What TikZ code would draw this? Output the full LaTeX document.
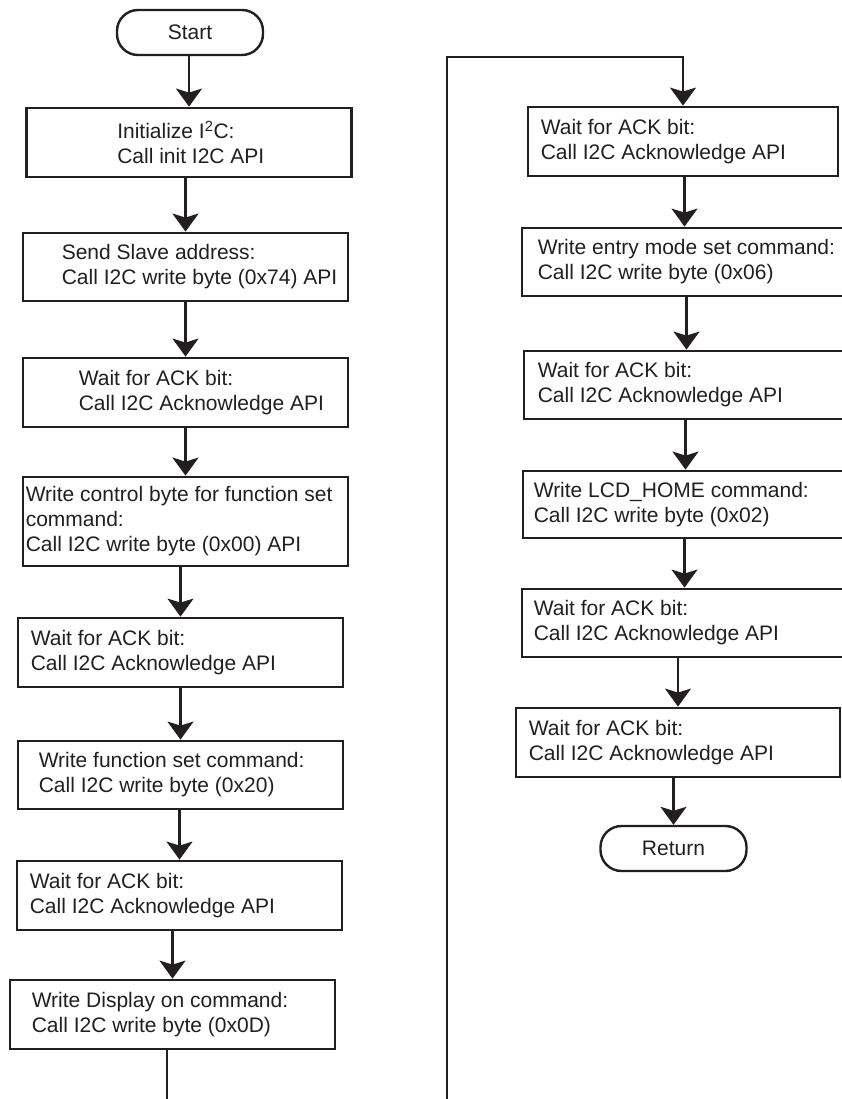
\documentclass[tikz,border=0pt]{standalone}
\usepackage{fontspec}
\setmainfont{Liberation Sans}
\usetikzlibrary{arrows.meta, positioning}
\definecolor{ink}{HTML}{231F20}

\begin{document}
\begin{tikzpicture}[
    x=1pt, y=-1pt,
    font=\fontsize{21}{25}\selectfont,
    every node/.style={text=ink},
    stepbox/.style={
        rectangle, draw=ink, line width=2.8pt,
        fill=white,
        minimum width=325pt, minimum height=68pt, inner sep=0pt
    },
    terminal/.style={
        rectangle, rounded corners=21pt, draw=ink, line width=2.4pt,
        fill=white,
        minimum width=146pt, minimum height=45pt, inner sep=0pt
    },
    txt/.style={align=left, inner sep=0pt},
    flow/.style={draw=ink, line width=2.4pt, -{Stealth[length=18pt, width=26pt, inset=4pt]}},
    line/.style={draw=ink, line width=2.4pt}
]
\useasboundingbox (0,0) rectangle (841,1099);

% -------------------------
% 1. Left column: setup of the display
% -------------------------
\node[terminal] (start) at (190, 32.5) {Start};

\node[stepbox, minimum height=69pt] (init) at (189, 142.5) {};
\node[txt, right=92pt of init.west] (initT) {Initialize I\textsuperscript{2}C:\\Call init I2C API};

\node[stepbox] (slave) at (185.5, 267) {};
\node[txt, right=40pt of slave.west] (slaveT) {Send Slave address:\\Call I2C write byte (0x74) API};

\node[stepbox, minimum height=69pt] (ack1) at (185.5, 392.5) {};
\node[txt, right=57pt of ack1.west] (ack1T) {Wait for ACK bit:\\Call I2C Acknowledge API};

\node[stepbox, minimum height=89pt] (ctrl) at (185.5, 521.5) {};
\node[txt, right=4pt of ctrl.west] (ctrlT) {Write control byte for function set\\command:\\Call I2C write byte (0x00) API};

\node[stepbox, minimum height=69pt] (ack2) at (180.5, 652.5) {};
\node[txt, right=14pt of ack2.west] (ack2T) {Wait for ACK bit:\\Call I2C Acknowledge API};

\node[stepbox] (fset) at (180.5, 775) {};
\node[txt, right=22pt of fset.west] (fsetT) {Write function set command:\\Call I2C write byte (0x20)};

\node[stepbox, minimum height=69pt] (ack3) at (179.5, 895.5) {};
\node[txt, right=14pt of ack3.west] (ack3T) {Wait for ACK bit:\\Call I2C Acknowledge API};

\node[stepbox, minimum height=69pt] (disp) at (172.5, 1014.5) {};
\node[txt, right=23pt of disp.west] (dispT) {Write Display on command:\\Call I2C write byte (0x0D)};

\draw[flow] (start.south -| init.north) -- (init.north);
\draw[flow] (init.south -| slave.north) -- (slave.north);
\draw[flow] (slave.south -| ack1.north) -- (ack1.north);
\draw[flow] (ack1.south -| ctrl.north) -- (ctrl.north);
\draw[flow] (ctrl.south -| ack2.north) -- (ack2.north);
\draw[flow] (ack2.south -| fset.north) -- (fset.north);
\draw[flow] (fset.south -| ack3.north) -- (ack3.north);
\draw[flow] (ack3.south -| disp.north) -- (disp.north);

% -------------------------
% 2. Right column: entry mode, home, return
% -------------------------
\node[stepbox, minimum width=310pt, minimum height=69pt] (ack4) at (683, 141.5) {};
\node[txt, right=14pt of ack4.west] (ack4T) {Wait for ACK bit:\\Call I2C Acknowledge API};

\node[stepbox] (entry) at (684.5, 262) {};
\node[txt, right=17pt of entry.west] (entryT) {Write entry mode set command:\\Call I2C write byte (0x06)};

\node[stepbox] (ack5) at (686.5, 385) {};
\node[txt, right=15pt of ack5.west] (ack5T) {Wait for ACK bit:\\Call I2C Acknowledge API};

\node[stepbox, minimum height=67pt] (home) at (685.5, 504.5) {};
\node[txt, right=12pt of home.west] (homeT) {Write LCD\_HOME command:\\Call I2C write byte (0x02)};

\node[stepbox] (ack6) at (684.5, 623) {};
\node[txt, right=13pt of ack6.west] (ack6T) {Wait for ACK bit:\\Call I2C Acknowledge API};

\node[stepbox, minimum width=324pt, minimum height=69pt] (ack7) at (678, 742.5) {};
\node[txt, right=14pt of ack7.west] (ack7T) {Wait for ACK bit:\\Call I2C Acknowledge API};

\node[terminal] (ret) at (673.5, 848.5) {Return};

\draw[flow] (ack4.south -| entry.north) -- (entry.north);
\draw[flow] (entry.south -| ack5.north) -- (ack5.north);
\draw[flow] (ack5.south -| home.north) -- (home.north);
\draw[flow] (home.south -| ack6.north) -- (ack6.north);
\draw[flow] (ack6.south -| ack7.north) -- (ack7.north);
\draw[flow] (ack7.south -| ret.north) -- (ret.north);

% -------------------------
% 3. Page break: left column continues into the right one
% -------------------------
\coordinate (cutL) at (167, 1099);
\coordinate (cutR) at (447, 1099);
\coordinate (turn) at (447, 57);

\draw[line] (disp.south -| cutL) -- (cutL);
\draw[flow] (cutR) -- (turn) -| (ack4.north);

\end{tikzpicture}
\end{document}
